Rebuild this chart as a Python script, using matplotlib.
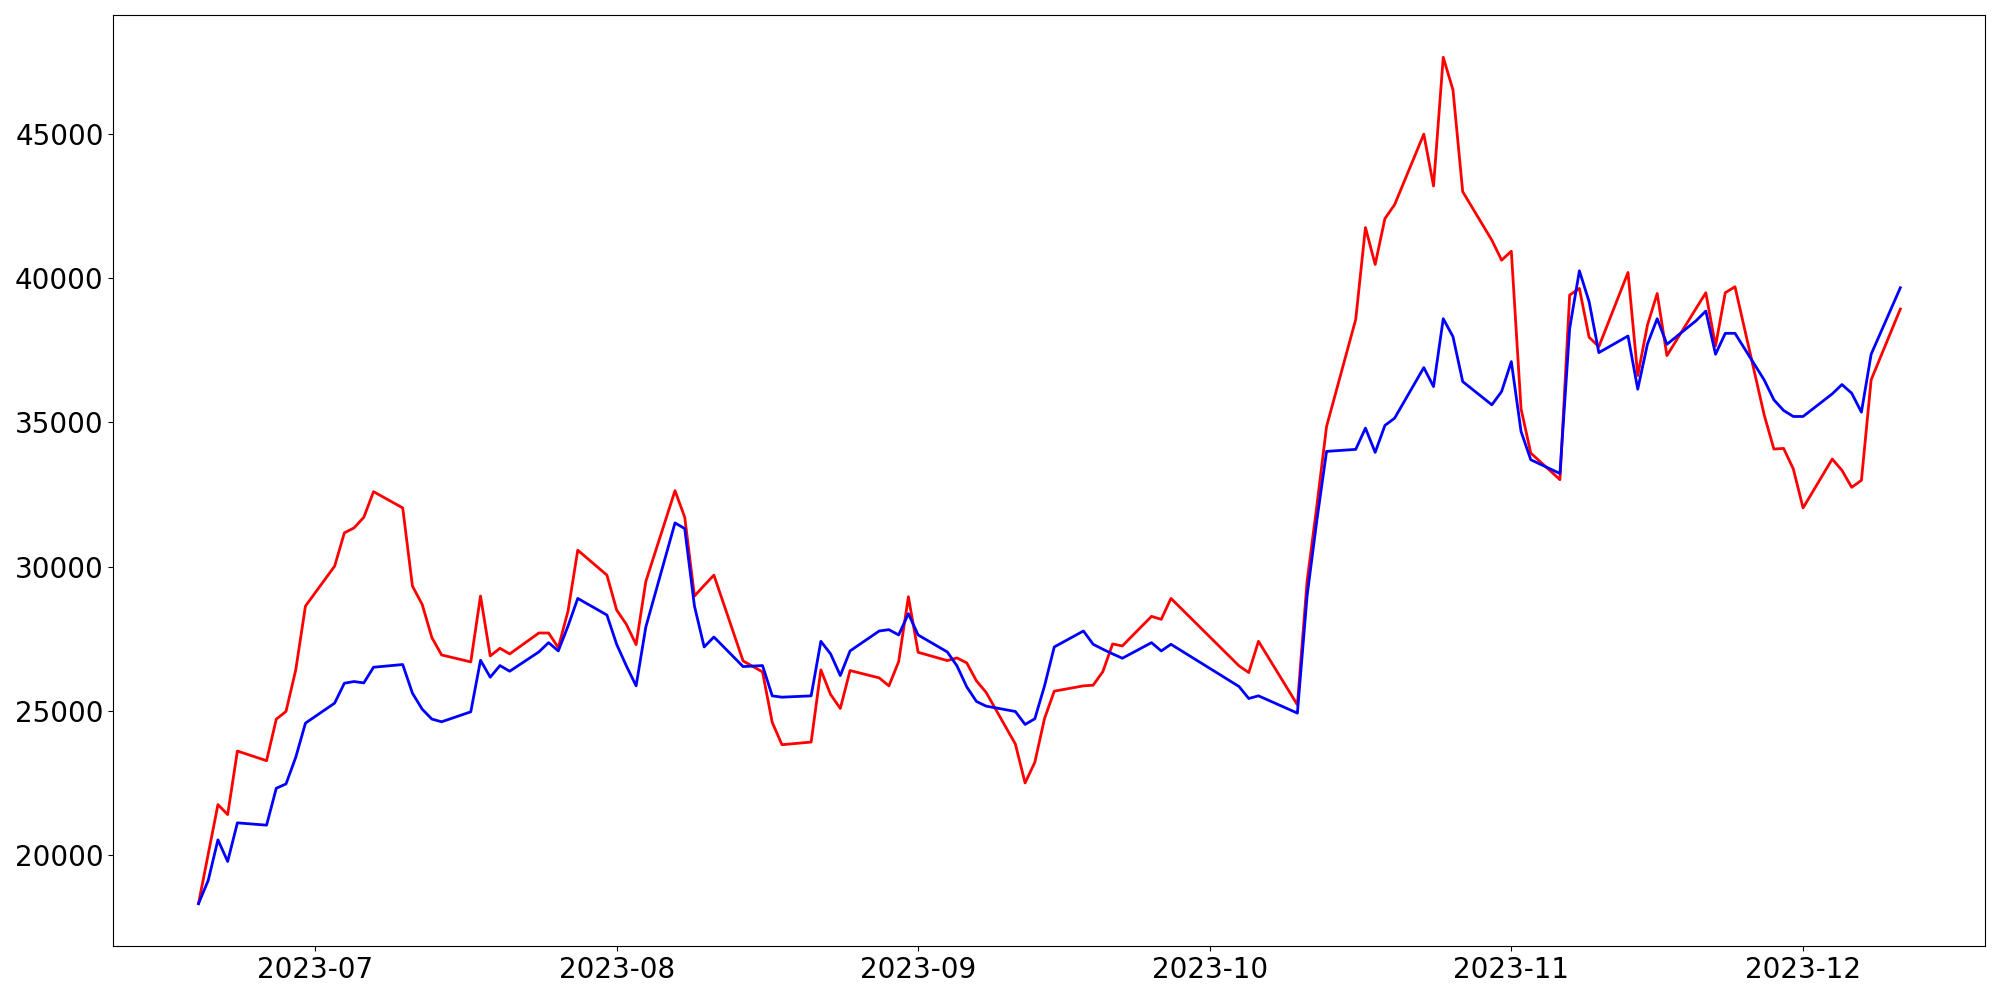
import matplotlib
matplotlib.use("Agg")
import matplotlib.pyplot as plt
import pandas as pd

dates = [
    "2023-06-19", "2023-06-20", "2023-06-21", "2023-06-22", "2023-06-23",
    "2023-06-26", "2023-06-27", "2023-06-28", "2023-06-29", "2023-06-30",
    "2023-07-03", "2023-07-04", "2023-07-05", "2023-07-06", "2023-07-07",
    "2023-07-10", "2023-07-11", "2023-07-12", "2023-07-13", "2023-07-14",
    "2023-07-17", "2023-07-18", "2023-07-19", "2023-07-20", "2023-07-21",
    "2023-07-24", "2023-07-25", "2023-07-26", "2023-07-27", "2023-07-28",
    "2023-07-31", "2023-08-01", "2023-08-02", "2023-08-03", "2023-08-04",
    "2023-08-07", "2023-08-08", "2023-08-09", "2023-08-10", "2023-08-11",
    "2023-08-14", "2023-08-16", "2023-08-17", "2023-08-18",
    "2023-08-21", "2023-08-22", "2023-08-23", "2023-08-24", "2023-08-25",
    "2023-08-28", "2023-08-29", "2023-08-30", "2023-08-31", "2023-09-01",
    "2023-09-04", "2023-09-05", "2023-09-06", "2023-09-07", "2023-09-08",
    "2023-09-11", "2023-09-12", "2023-09-13", "2023-09-14", "2023-09-15",
    "2023-09-18", "2023-09-19", "2023-09-20", "2023-09-21", "2023-09-22",
    "2023-09-25", "2023-09-26", "2023-09-27",
    "2023-10-04", "2023-10-05", "2023-10-06",
    "2023-10-10", "2023-10-11", "2023-10-12", "2023-10-13",
    "2023-10-16", "2023-10-17", "2023-10-18", "2023-10-19", "2023-10-20",
    "2023-10-23", "2023-10-24", "2023-10-25", "2023-10-26", "2023-10-27",
    "2023-10-30", "2023-10-31", "2023-11-01", "2023-11-02", "2023-11-03",
    "2023-11-06", "2023-11-07", "2023-11-08", "2023-11-09", "2023-11-10",
    "2023-11-13", "2023-11-14", "2023-11-15", "2023-11-16", "2023-11-17",
    "2023-11-20", "2023-11-21", "2023-11-22", "2023-11-23", "2023-11-24",
    "2023-11-27", "2023-11-28", "2023-11-29", "2023-11-30", "2023-12-01",
    "2023-12-04", "2023-12-05", "2023-12-06", "2023-12-07", "2023-12-08",
    "2023-12-11",
]

red_vals = [
    18300, 20020, 21738, 21392, 23598,
    23262, 24706, 24972, 26413, 28629,
    30015, 31170, 31343, 31711, 32600,
    32036, 29322, 28688, 27534, 26932,
    26691, 28976, 26898, 27164, 26968,
    27695, 27695, 27187, 28456, 30569,
    29703, 28491, 27995, 27291, 29484,
    32635, 31711, 28976, 29345, 29703,
    26725, 26344, 24590, 23817,
    23909, 26414, 25559, 25075, 26391,
    26136, 25860, 26702, 28953, 27025,
    26737, 26829, 26656, 26033, 25629,
    23840, 22490, 23205, 24729, 25675,
    25860, 25883, 26356, 27314, 27245,
    28272, 28168, 28896,
    26553, 26322, 27407,
    25202, 29498, 32100, 34862,
    38579, 41766, 40484, 42076, 42561,
    45008, 43207, 47674, 46543, 43011,
    41326, 40633, 40945, 35475, 33939,
    33016, 39422, 39653, 37956, 37633,
    40207, 36629, 38383, 39477, 37321,
    38960, 39503, 37656, 39503, 39711,
    35267, 34078, 34101, 33386, 32035,
    33732, 33339, 32751, 32993, 36479,
    38937,
]

blue_vals = [
    18300, 19107, 20516, 19765, 21105,
    21025, 22306, 22455, 23380, 24567,
    25260, 25952, 26010, 25962, 26506,
    26600, 25606, 25052, 24706, 24613,
    24959, 26748, 26160, 26564, 26367,
    27037, 27360, 27072, 27937, 28895,
    28318, 27302, 26552, 25860, 27903,
    31515, 31319, 28630, 27210, 27556,
    26529, 26564, 25513, 25467,
    25513, 27406, 26968, 26217, 27072,
    27764, 27810, 27626, 28364, 27626,
    27037, 26552, 25825, 25318, 25156,
    24971, 24521, 24717, 25860, 27210,
    27764, 27303, 27130, 26970, 26818,
    27360, 27072, 27303,
    25837, 25421, 25514,
    24914, 28989, 31600, 33997,
    34067, 34805, 33963, 34897, 35151,
    36905, 36247, 38602, 37979, 36420,
    35613, 36075, 37113, 34689, 33708,
    33230, 38268, 40265, 39191, 37425,
    38002, 36156, 37725, 38603, 37714,
    38533, 38868, 37368, 38095, 38095,
    36479, 35786, 35417, 35209, 35209,
    35994, 36317, 36017, 35359, 37368,
    39676,
]

x = pd.to_datetime(dates)

fig, ax = plt.subplots(figsize=(20, 10), dpi=100)
ax.plot(x, red_vals, color="red", linewidth=2)
ax.plot(x, blue_vals, color="blue", linewidth=2)

ax.tick_params(labelsize=20)

fig.subplots_adjust(left=0.0567, right=0.9927, top=0.985, bottom=0.054)
fig.savefig("out.png", dpi=100)
